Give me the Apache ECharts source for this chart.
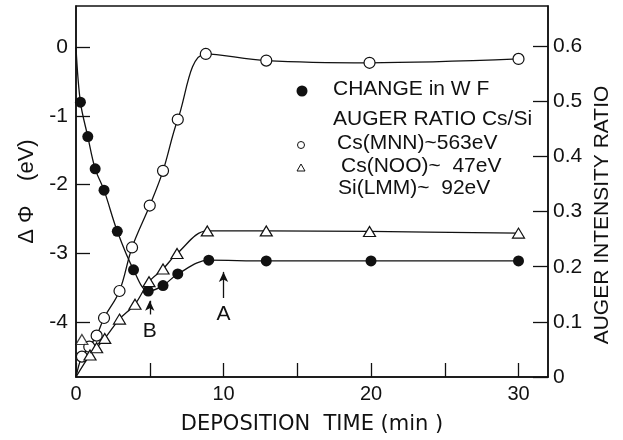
<!DOCTYPE html>
<html>
<head>
<meta charset="utf-8">
<script src="https://cdn.jsdelivr.net/npm/echarts@6/dist/echarts.min.js"></script>
<style>
  html, body { margin: 0; padding: 0; background: #fff; }
  #chart { width: 623px; height: 440px; }
</style>
</head>
<body>
<div id="chart"></div>
<script>
// Work function change (left axis, eV)
const wfTime  = [0.3, 0.8, 1.3, 1.9, 2.8, 3.9, 4.9, 5.9, 6.9, 9.0, 12.9, 20.0, 30.0];
const wfValue = [-0.80, -1.30, -1.77, -2.08, -2.68, -3.24, -3.55, -3.47, -3.30, -3.10, -3.11, -3.11, -3.11];

// Auger ratio Cs(MNN)/Si (right axis)
const mnnTime  = [0.4, 0.9, 1.4, 1.9, 2.95, 3.8, 5.0, 5.9, 6.9, 8.8, 12.9, 19.9, 30.0];
const mnnValue = [0.037, 0.055, 0.075, 0.107, 0.156, 0.235, 0.311, 0.374, 0.467, 0.586, 0.574, 0.570, 0.577];

// Auger ratio Cs(NOO)/Si (right axis)
const nooTime  = [0.95, 1.4, 1.95, 2.95, 4.0, 4.95, 5.9, 6.85, 8.9, 12.9, 19.9, 30.0];
const nooValue = [0.040, 0.053, 0.070, 0.105, 0.132, 0.173, 0.196, 0.224, 0.265, 0.265, 0.264, 0.261];
// the early triangle that sits off the curve
const nooOffTime  = [0.4];
const nooOffValue = [0.068];

// all curves start at the origin
const curveStart = [0, 0];

// tick labels
const timeTicks  = [0, 5, 10, 15, 20, 25, 30];
const timeLabels = [0, 10, 20, 30];
const wfTicks    = [-4, -3, -2, -1, 0];
const ratioTicks = [0, 0.1, 0.2, 0.3, 0.4, 0.5, 0.6];

// arrows A and B (time, top, bottom)
const arrowB = [5, -3.69, -3.89];
const arrowA = [10, -3.27, -3.65];

const FONT = '"Liberation Sans", Arial, sans-serif';
const WIDE = '"DejaVu Sans", sans-serif';
const INK = '#111';

const toPairs = (xs, ys) => xs.map((x, i) => [x, ys[i]]);
const withStart = pairs => [{ value: curveStart, symbol: 'none' }].concat(pairs);

const lineBase = {
    type: 'line',
    smooth: 0.35,
    showAllSymbol: true,
    lineStyle: { color: INK, width: 1.3 },
    emphasis: { disabled: true },
    z: 3
};

const arrowMark = (a, text) => [
    { coord: [a[0], a[1]], symbol: 'arrow', symbolSize: [7, 10] },
    { coord: [a[0], a[2]], symbol: 'none', label: { formatter: text } }
];

let myChart = echarts.init(document.getElementById('chart'));

const option = {
    backgroundColor: '#fff',
    animation: false,
    grid: {
        left: 76, right: 75, top: 6, bottom: 57,
        show: true, borderColor: INK, borderWidth: 1.5, backgroundColor: 'transparent'
    },
    xAxis: {
        type: 'value',
        min: 0,
        max: 32,
        name: 'DEPOSITION  TIME (min )',
        nameLocation: 'middle',
        nameGap: 37,
        nameTextStyle: { fontFamily: WIDE, fontSize: 21, color: INK },
        axisLine: { onZero: false, lineStyle: { color: INK, width: 1.5 } },
        axisTick: { inside: true, length: 14, customValues: timeTicks, lineStyle: { color: INK, width: 1.3 } },
        axisLabel: { customValues: timeLabels, fontFamily: FONT, fontSize: 20, color: INK, margin: 7 },
        splitLine: { show: false }
    },
    yAxis: [{
        type: 'value',
        position: 'left',
        min: -4.8,
        max: 0.6,
        name: 'Δ Φ    (eV)',
        nameLocation: 'middle',
        nameRotate: 90,
        nameGap: 38,
        nameTextStyle: { fontFamily: FONT, fontSize: 22, color: INK },
        axisLine: { show: true, onZero: false, lineStyle: { color: INK, width: 1.5 } },
        axisTick: { inside: true, length: 14, customValues: wfTicks, lineStyle: { color: INK, width: 1.3 } },
        axisLabel: { customValues: wfTicks, fontFamily: FONT, fontSize: 21, color: INK, margin: 8 },
        splitLine: { show: false }
    }, {
        type: 'value',
        position: 'right',
        min: 0,
        max: 0.673,
        axisLine: { show: true, onZero: false, lineStyle: { color: INK, width: 1.5 } },
        axisTick: { inside: true, length: 15, customValues: ratioTicks, lineStyle: { color: INK, width: 1.3 } },
        axisLabel: {
            customValues: ratioTicks, fontFamily: FONT, fontSize: 21, color: INK, margin: 5,
            formatter: v => (v === 0 ? '0' : v.toFixed(1))
        },
        splitLine: { show: false }
    }],
    series: [
        Object.assign({}, lineBase, {
            name: 'CHANGE in W F',
            yAxisIndex: 0,
            symbol: 'circle',
            symbolSize: 11,
            itemStyle: { color: INK },
            data: withStart(toPairs(wfTime, wfValue)),
            markLine: {
                silent: true,
                animation: false,
                lineStyle: { color: INK, width: 1.3, type: 'solid' },
                label: { position: 'end', distance: 6, fontFamily: FONT, fontSize: 21, color: INK },
                data: [arrowMark(arrowB, 'B'), arrowMark(arrowA, 'A')]
            }
        }),
        Object.assign({}, lineBase, {
            name: 'Cs(MNN)~563eV',
            yAxisIndex: 1,
            symbol: 'circle',
            symbolSize: 11,
            itemStyle: { color: '#fff', borderColor: INK, borderWidth: 1.2 },
            data: withStart(toPairs(mnnTime, mnnValue))
        }),
        Object.assign({}, lineBase, {
            name: 'Cs(NOO)~ 47eV',
            yAxisIndex: 1,
            symbol: 'triangle',
            symbolSize: [12, 10],
            itemStyle: { color: '#fff', borderColor: INK, borderWidth: 1.2 },
            data: withStart(toPairs(nooTime, nooValue))
        }),
        {
            type: 'scatter',
            yAxisIndex: 1,
            symbol: 'triangle',
            symbolSize: [12, 10],
            itemStyle: { color: '#fff', borderColor: INK, borderWidth: 1.2 },
            emphasis: { disabled: true },
            data: toPairs(nooOffTime, nooOffValue),
            z: 4
        }
    ],
    // legend block and right axis title drawn as plain text
    graphic: [
        { type: 'circle', shape: { cx: 302, cy: 91, r: 5.5 }, style: { fill: INK } },
        { type: 'circle', shape: { cx: 301, cy: 145, r: 3.5 }, style: { fill: '#fff', stroke: INK, lineWidth: 1 } },
        { type: 'polygon', shape: { points: [[301, 164], [305, 171], [297, 171]] }, style: { fill: '#fff', stroke: INK, lineWidth: 1 } },
        { type: 'text', left: 333, top: 79, style: { text: 'CHANGE in W F', font: '21px ' + FONT, fill: INK } },
        { type: 'text', left: 333, top: 109, style: { text: 'AUGER RATIO Cs/Si', font: '21px ' + FONT, fill: INK } },
        { type: 'text', left: 337, top: 133, style: { text: 'Cs(MNN)~563eV', font: '21px ' + FONT, fill: INK } },
        { type: 'text', left: 341, top: 156, style: { text: 'Cs(NOO)~  47eV', font: '21px ' + FONT, fill: INK } },
        { type: 'text', left: 338, top: 178, style: { text: 'Si(LMM)~  92eV', font: '21px ' + FONT, fill: INK } },
        {
            type: 'text', x: 602, y: 215, rotation: Math.PI / 2,
            style: { text: 'AUGER INTENSITY RATIO', font: '21px ' + FONT, fill: INK, align: 'center', verticalAlign: 'middle' }
        }
    ]
};

if (option && typeof option === 'object') {
    myChart.setOption(option, true);
}
</script>
</body>
</html>
